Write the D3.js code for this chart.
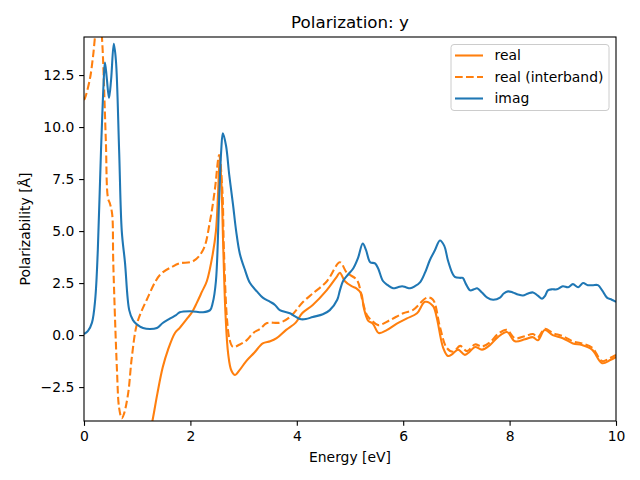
<!DOCTYPE html>
<html>
<head>
<meta charset="utf-8">
<script src="https://cdn.jsdelivr.net/npm/d3@7"></script>
<style>
  body { margin: 0; background: #fff; }
  svg { display: block; font-family: "DejaVu Sans", sans-serif; }
</style>
</head>
<body>
<svg id="chart" width="640" height="480"></svg>
<script>
// ---- data ----
const title = "Polarization: y";
const xLabel = "Energy [eV]";
const yLabel = "Polarizability [Å]";
const xTicks = [0, 2, 4, 6, 8, 10];
const yTicks = [-2.5, 0, 2.5, 5, 7.5, 10, 12.5];
const seriesNames = ["real", "real (interband)", "imag"];

const realE = [1.1, 1.2, 1.3, 1.38, 1.48, 1.58, 1.71, 1.8, 1.94, 2.03, 2.12, 2.22, 2.31, 2.42, 2.48, 2.52, 2.55, 2.58, 2.62, 2.66, 2.71, 2.77, 2.84, 2.92, 3.05, 3.2, 3.36, 3.5, 3.62, 3.8, 3.98, 4.1, 4.3, 4.56, 4.75, 4.81, 4.9, 5.03, 5.12, 5.21, 5.26, 5.34, 5.43, 5.54, 5.69, 5.88, 6.07, 6.26, 6.41, 6.56, 6.63, 6.75, 6.84, 6.93, 7.03, 7.16, 7.25, 7.35, 7.48, 7.63, 7.78, 7.95, 8.1, 8.29, 8.44, 8.53, 8.66, 8.81, 9.0, 9.19, 9.36, 9.55, 9.74, 9.89, 10.0];
const realV = [-6.8, -5.3, -3.94, -2.8, -1.55, -0.7, 0.1, 0.35, 0.8, 1.1, 1.55, 2.1, 2.6, 3.9, 5.0, 6.8, 8.5, 7.5, 4.0, 1.0, -0.9, -1.7, -1.92, -1.7, -1.25, -0.85, -0.4, -0.3, -0.15, 0.25, 0.6, 1.05, 1.45, 2.15, 2.8, 3.0, 2.6, 2.35, 2.25, 2.0, 1.3, 0.7, 0.55, 0.1, 0.24, 0.55, 0.8, 1.05, 1.6, 1.4, 0.85, -0.6, -1.0, -0.9, -0.7, -0.95, -0.8, -0.57, -0.7, -0.48, -0.1, 0.15, -0.3, -0.2, -0.1, -0.25, 0.24, 0.0, -0.15, -0.4, -0.48, -0.7, -1.35, -1.2, -1.05];

const interE = [0.0, 0.02, 0.11, 0.17, 0.22, 0.27, 0.31, 0.34, 0.41, 0.45, 0.49, 0.53, 0.55, 0.62, 0.66, 0.71, 0.75, 0.83, 0.9, 1.0, 1.18, 1.43, 1.67, 1.8, 2.05, 2.24, 2.37, 2.46, 2.54, 2.6, 2.63, 2.69, 2.74, 2.8, 2.93, 3.06, 3.18, 3.31, 3.44, 3.68, 3.87, 4.12, 4.3, 4.57, 4.81, 4.94, 5.13, 5.23, 5.32, 5.41, 5.53, 5.75, 6.0, 6.18, 6.45, 6.56, 6.69, 6.82, 6.94, 7.07, 7.2, 7.35, 7.48, 7.63, 7.78, 7.95, 8.1, 8.29, 8.44, 8.53, 8.66, 8.81, 9.0, 9.19, 9.36, 9.55, 9.74, 9.89, 10.0];
const interV = [11.3, 11.4, 12.3, 13.4, 14.6, 15.2, 15.0, 14.2, 9.4, 6.6, 6.3, 5.8, 3.5, -1.7, -3.5, -4.0, -3.8, -2.8, -1.05, 0.58, 1.7, 2.9, 3.3, 3.45, 3.55, 4.1, 5.5, 7.0, 8.65, 7.0, 4.1, 0.7, -0.25, -0.57, -0.45, -0.24, 0.1, 0.3, 0.58, 0.6, 0.87, 1.6, 2.0, 2.6, 3.5, 3.0, 2.65, 1.7, 0.95, 0.7, 0.48, 0.72, 1.05, 1.2, 1.8, 1.7, 0.4, -0.62, -0.8, -0.52, -0.77, -0.45, -0.55, -0.35, 0.05, 0.25, -0.15, -0.05, 0.05, -0.1, 0.3, 0.1, -0.05, -0.3, -0.4, -0.6, -1.25, -1.1, -0.95];

const imagE = [0, 0.075, 0.15, 0.21, 0.26, 0.32, 0.38, 0.395, 0.43, 0.47, 0.51, 0.56, 0.6, 0.66, 0.71, 0.77, 0.85, 0.92, 1.0, 1.11, 1.24, 1.37, 1.48, 1.62, 1.73, 1.8, 2.0, 2.24, 2.37, 2.42, 2.48, 2.54, 2.58, 2.61, 2.67, 2.73, 2.8, 2.86, 2.93, 3.03, 3.12, 3.25, 3.36, 3.5, 3.59, 3.68, 3.87, 3.97, 4.06, 4.17, 4.3, 4.49, 4.62, 4.76, 4.81, 4.87, 4.96, 5.06, 5.15, 5.24, 5.3, 5.38, 5.47, 5.53, 5.62, 5.71, 5.81, 5.9, 5.98, 6.05, 6.13, 6.22, 6.32, 6.41, 6.5, 6.6, 6.69, 6.77, 6.84, 6.92, 6.97, 7.07, 7.12, 7.18, 7.26, 7.33, 7.39, 7.48, 7.58, 7.69, 7.82, 7.89, 7.97, 8.06, 8.16, 8.25, 8.35, 8.44, 8.53, 8.61, 8.67, 8.72, 8.8, 8.89, 9.0, 9.1, 9.19, 9.29, 9.38, 9.47, 9.57, 9.66, 9.74, 9.83, 9.92, 10.0];
const imagV = [0.05, 0.2, 0.6, 1.7, 4.1, 8.9, 12.7, 13.1, 12.3, 11.4, 12.3, 14.0, 13.2, 8.9, 5.0, 3.5, 1.2, 0.72, 0.5, 0.34, 0.29, 0.34, 0.58, 0.8, 0.96, 1.1, 1.15, 1.1, 1.2, 1.55, 2.6, 6.5, 8.9, 9.7, 9.1, 7.7, 6.3, 5.0, 3.9, 3.1, 2.5, 2.1, 1.8, 1.6, 1.45, 1.2, 1.05, 0.9, 0.77, 0.77, 0.87, 1.0, 1.2, 1.7, 2.15, 2.6, 2.9, 3.2, 3.7, 4.4, 4.1, 3.5, 3.45, 3.2, 2.6, 2.4, 2.25, 2.3, 2.35, 2.3, 2.25, 2.35, 2.55, 3.0, 3.6, 4.1, 4.55, 4.3, 3.6, 3.0, 2.8, 2.75, 2.75, 2.45, 2.15, 2.2, 2.25, 2.05, 1.8, 1.7, 1.8, 2.0, 2.1, 2.05, 1.95, 1.9, 2.0, 2.05, 1.9, 1.75, 1.9, 2.15, 2.2, 2.2, 2.35, 2.3, 2.45, 2.3, 2.5, 2.4, 2.4, 2.4, 2.15, 1.8, 1.7, 1.6];

// ---- layout ----
const svg = d3.select("#chart");
const m = { left: 84, right: 616, top: 37, bottom: 421 };
const x = d3.scaleLinear().domain([0, 10]).range([m.left, m.right]);
const y = d3.scaleLinear().domain([-4.13, 14.33]).range([m.bottom, m.top]);

const blue = "#1f77b4", orange = "#ff7f0e";
const fmt = v => (v < 0 ? "\u2212" : "") + Math.abs(v).toFixed(v === Math.round(v) && xTicks.includes(v) ? 0 : 1);

svg.append("defs").append("clipPath").attr("id", "clip")
  .append("rect").attr("x", m.left).attr("y", m.top)
  .attr("width", m.right - m.left).attr("height", m.bottom - m.top);

const line = d3.line().x(d => x(d[0])).y(d => y(d[1])).curve(d3.curveCatmullRom.alpha(0.5));
const zip = (a, b) => a.map((v, i) => [v, b[i]]);

const g = svg.append("g").attr("clip-path", "url(#clip)");
g.append("path").datum(zip(realE, realV)).attr("d", line)
  .attr("fill", "none").attr("stroke", orange).attr("stroke-width", 2.08);
g.append("path").datum(zip(interE, interV)).attr("d", line)
  .attr("fill", "none").attr("stroke", orange).attr("stroke-width", 2.08)
  .attr("stroke-dasharray", "7.7,3.3");
g.append("path").datum(zip(imagE, imagV)).attr("d", line)
  .attr("fill", "none").attr("stroke", blue).attr("stroke-width", 2.08);

// axes
const xAxis = d3.axisBottom(x).tickValues(xTicks).tickSize(4.86).tickPadding(4.86)
  .tickFormat(d => String(d));
const yAxis = d3.axisLeft(y).tickValues(yTicks).tickSize(4.86).tickPadding(4.86)
  .tickFormat(d => (d < 0 ? "\u2212" : "") + Math.abs(d).toFixed(1));

const gx = svg.append("g").attr("transform", `translate(0,${m.bottom})`).call(xAxis);
const gy = svg.append("g").attr("transform", `translate(${m.left},0)`).call(yAxis);
[gx, gy].forEach(a => {
  a.select(".domain").remove();
  a.selectAll(".tick line").attr("stroke", "#000").attr("stroke-width", 1.1);
  a.selectAll(".tick text").attr("fill", "#000").attr("font-size", 13.9)
    .attr("font-family", "DejaVu Sans, sans-serif");
});

// spines
svg.append("rect").attr("x", m.left).attr("y", m.top)
  .attr("width", m.right - m.left).attr("height", m.bottom - m.top)
  .attr("fill", "none").attr("stroke", "#000").attr("stroke-width", 1.1);

// labels
svg.append("text").attr("x", (m.left + m.right) / 2).attr("y", 28)
  .attr("text-anchor", "middle").attr("font-size", 16.7).text(title);
svg.append("text").attr("x", (m.left + m.right) / 2).attr("y", 462)
  .attr("text-anchor", "middle").attr("font-size", 13.9).text(xLabel);
svg.append("text").attr("transform", `translate(30,${(m.top + m.bottom) / 2}) rotate(-90)`)
  .attr("text-anchor", "middle").attr("font-size", 13.9).text(yLabel);

// legend
const lg = svg.append("g");
lg.append("rect").attr("x", 451).attr("y", 44.5).attr("width", 158).attr("height", 66)
  .attr("rx", 3).attr("fill", "#fff").attr("fill-opacity", 0.8)
  .attr("stroke", "#cccccc").attr("stroke-width", 1);
const legStyles = [
  { c: orange, dash: null },
  { c: orange, dash: "7.7,3.3" },
  { c: blue, dash: null }
];
seriesNames.forEach((name, i) => {
  const yy = 55.5 + i * 21.5;
  lg.append("line").attr("x1", 455).attr("x2", 483).attr("y1", yy).attr("y2", yy)
    .attr("stroke", legStyles[i].c).attr("stroke-width", 2.08)
    .attr("stroke-dasharray", legStyles[i].dash);
  lg.append("text").attr("x", 494.5).attr("y", yy + 4.9).attr("font-size", 13.9).text(name);
});
</script>
</body>
</html>
